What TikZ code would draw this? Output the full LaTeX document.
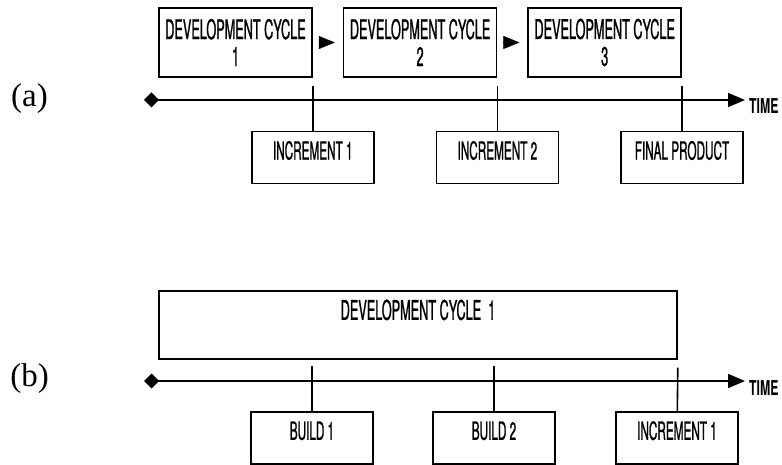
\documentclass[tikz,border=0pt]{standalone}
\usepackage{fontspec}
\usepackage{tikz}
\usetikzlibrary{arrows.meta,positioning}

\newfontfamily\agency[FakeStretch=0.47,FakeBold=0.9]{TeX Gyre Heros}
\newfontfamily\agencytime[FakeStretch=0.6]{TeX Gyre Heros}
\newfontfamily\labelfont{Liberation Serif}

\begin{document}
\begin{tikzpicture}[x=1pt,y=-1pt,
    cyclebox/.style={draw,line width=1.6pt,minimum width=153pt,minimum height=69pt,
        inner sep=0pt,align=center,font=\agency\fontsize{27}{27}\selectfont},
    incbox/.style={draw,line width=1.6pt,minimum width=122pt,inner xsep=0pt,inner ysep=10pt,
        text height=18pt,text depth=14pt,font=\agency\fontsize{25}{25}\selectfont},
    bigbox/.style={draw,line width=1.6pt,minimum width=518pt,inner xsep=0pt,inner ysep=10pt,
        text height=19pt,text depth=29pt,font=\agency\fontsize{27}{27}\selectfont},
    timeline/.style={line width=1.8pt,{Diamond[length=15pt,width=15pt]}-{Triangle[length=17pt,width=14pt]}},
    tick/.style={line width=1.6pt},
    nextarrow/.style={line width=0.4pt,-{Triangle[length=16pt,width=13pt]}},
    timelbl/.style={inner sep=0pt,font=\agencytime\bfseries\fontsize{20.5}{22}\selectfont},
    panel/.style={inner sep=0pt,font=\labelfont\fontsize{33}{36}\selectfont}]
\useasboundingbox (0,0) rectangle (782,465);

% (a) three development cycles
\node[panel] (la) at (29.5,99) {(a)};
\node[cyclebox] (c1) at (235.5,42.5) {DEVELOPMENT CYCLE\\1};
\node[cyclebox,right=30pt of c1] (c2) {DEVELOPMENT CYCLE\\2};
\node[cyclebox,right=30pt of c2] (c3) {DEVELOPMENT CYCLE\\3};
\draw[nextarrow] ([xshift=6pt]c1.east) -- ([xshift=-8pt]c2.west);
\draw[nextarrow] ([xshift=6pt]c2.east) -- ([xshift=-8pt]c3.west);

\coordinate (ta0) at (144,100);
\coordinate (ta1) at (745,100);
\draw[timeline] (ta0) -- (ta1);
\node[timelbl,anchor=base west] (timea) at (749,114) {TIME};

\node[incbox,below=53pt of c1.south east] (i1) {INCREMENT 1};
\node[incbox,below=53pt of c2.south east] (i2) {INCREMENT 2};
\node[incbox,below=53pt of c3.south east] (i3) {FINAL PRODUCT};
\draw[tick] ([yshift=-8pt]c1.south east) -- (i1);
\draw[tick] ([yshift=-8pt]c2.south east) -- (i2);
\draw[tick] ([yshift=-8pt]c3.south east) -- (i3);

% (b) one cycle split into builds
\node[panel] (lb) at (29.5,379) {(b)};
\node[bigbox,anchor=north] (dev) at (418,290) {DEVELOPMENT CYCLE~~1};

\coordinate (tb0) at (144,381);
\coordinate (tb1) at (745,381);
\draw[timeline] (tb0) -- (tb1);
\node[timelbl,anchor=base west] (timeb) at (749,395) {TIME};

\node[incbox,anchor=north] (b1) at (312,411) {BUILD 1};
\node[incbox,anchor=north] (b2) at (494,411) {BUILD 2};
\node[incbox,anchor=north] (b3) at (677,411) {INCREMENT 1};
\coordinate (k1) at (312,366);
\coordinate (k2) at (494,366);
\draw[tick] (k1) -- (b1);
\draw[tick] (k2) -- (b2);
\draw[tick] ([yshift=-8pt]dev.south east) -- (b3);
\end{tikzpicture}
\end{document}
